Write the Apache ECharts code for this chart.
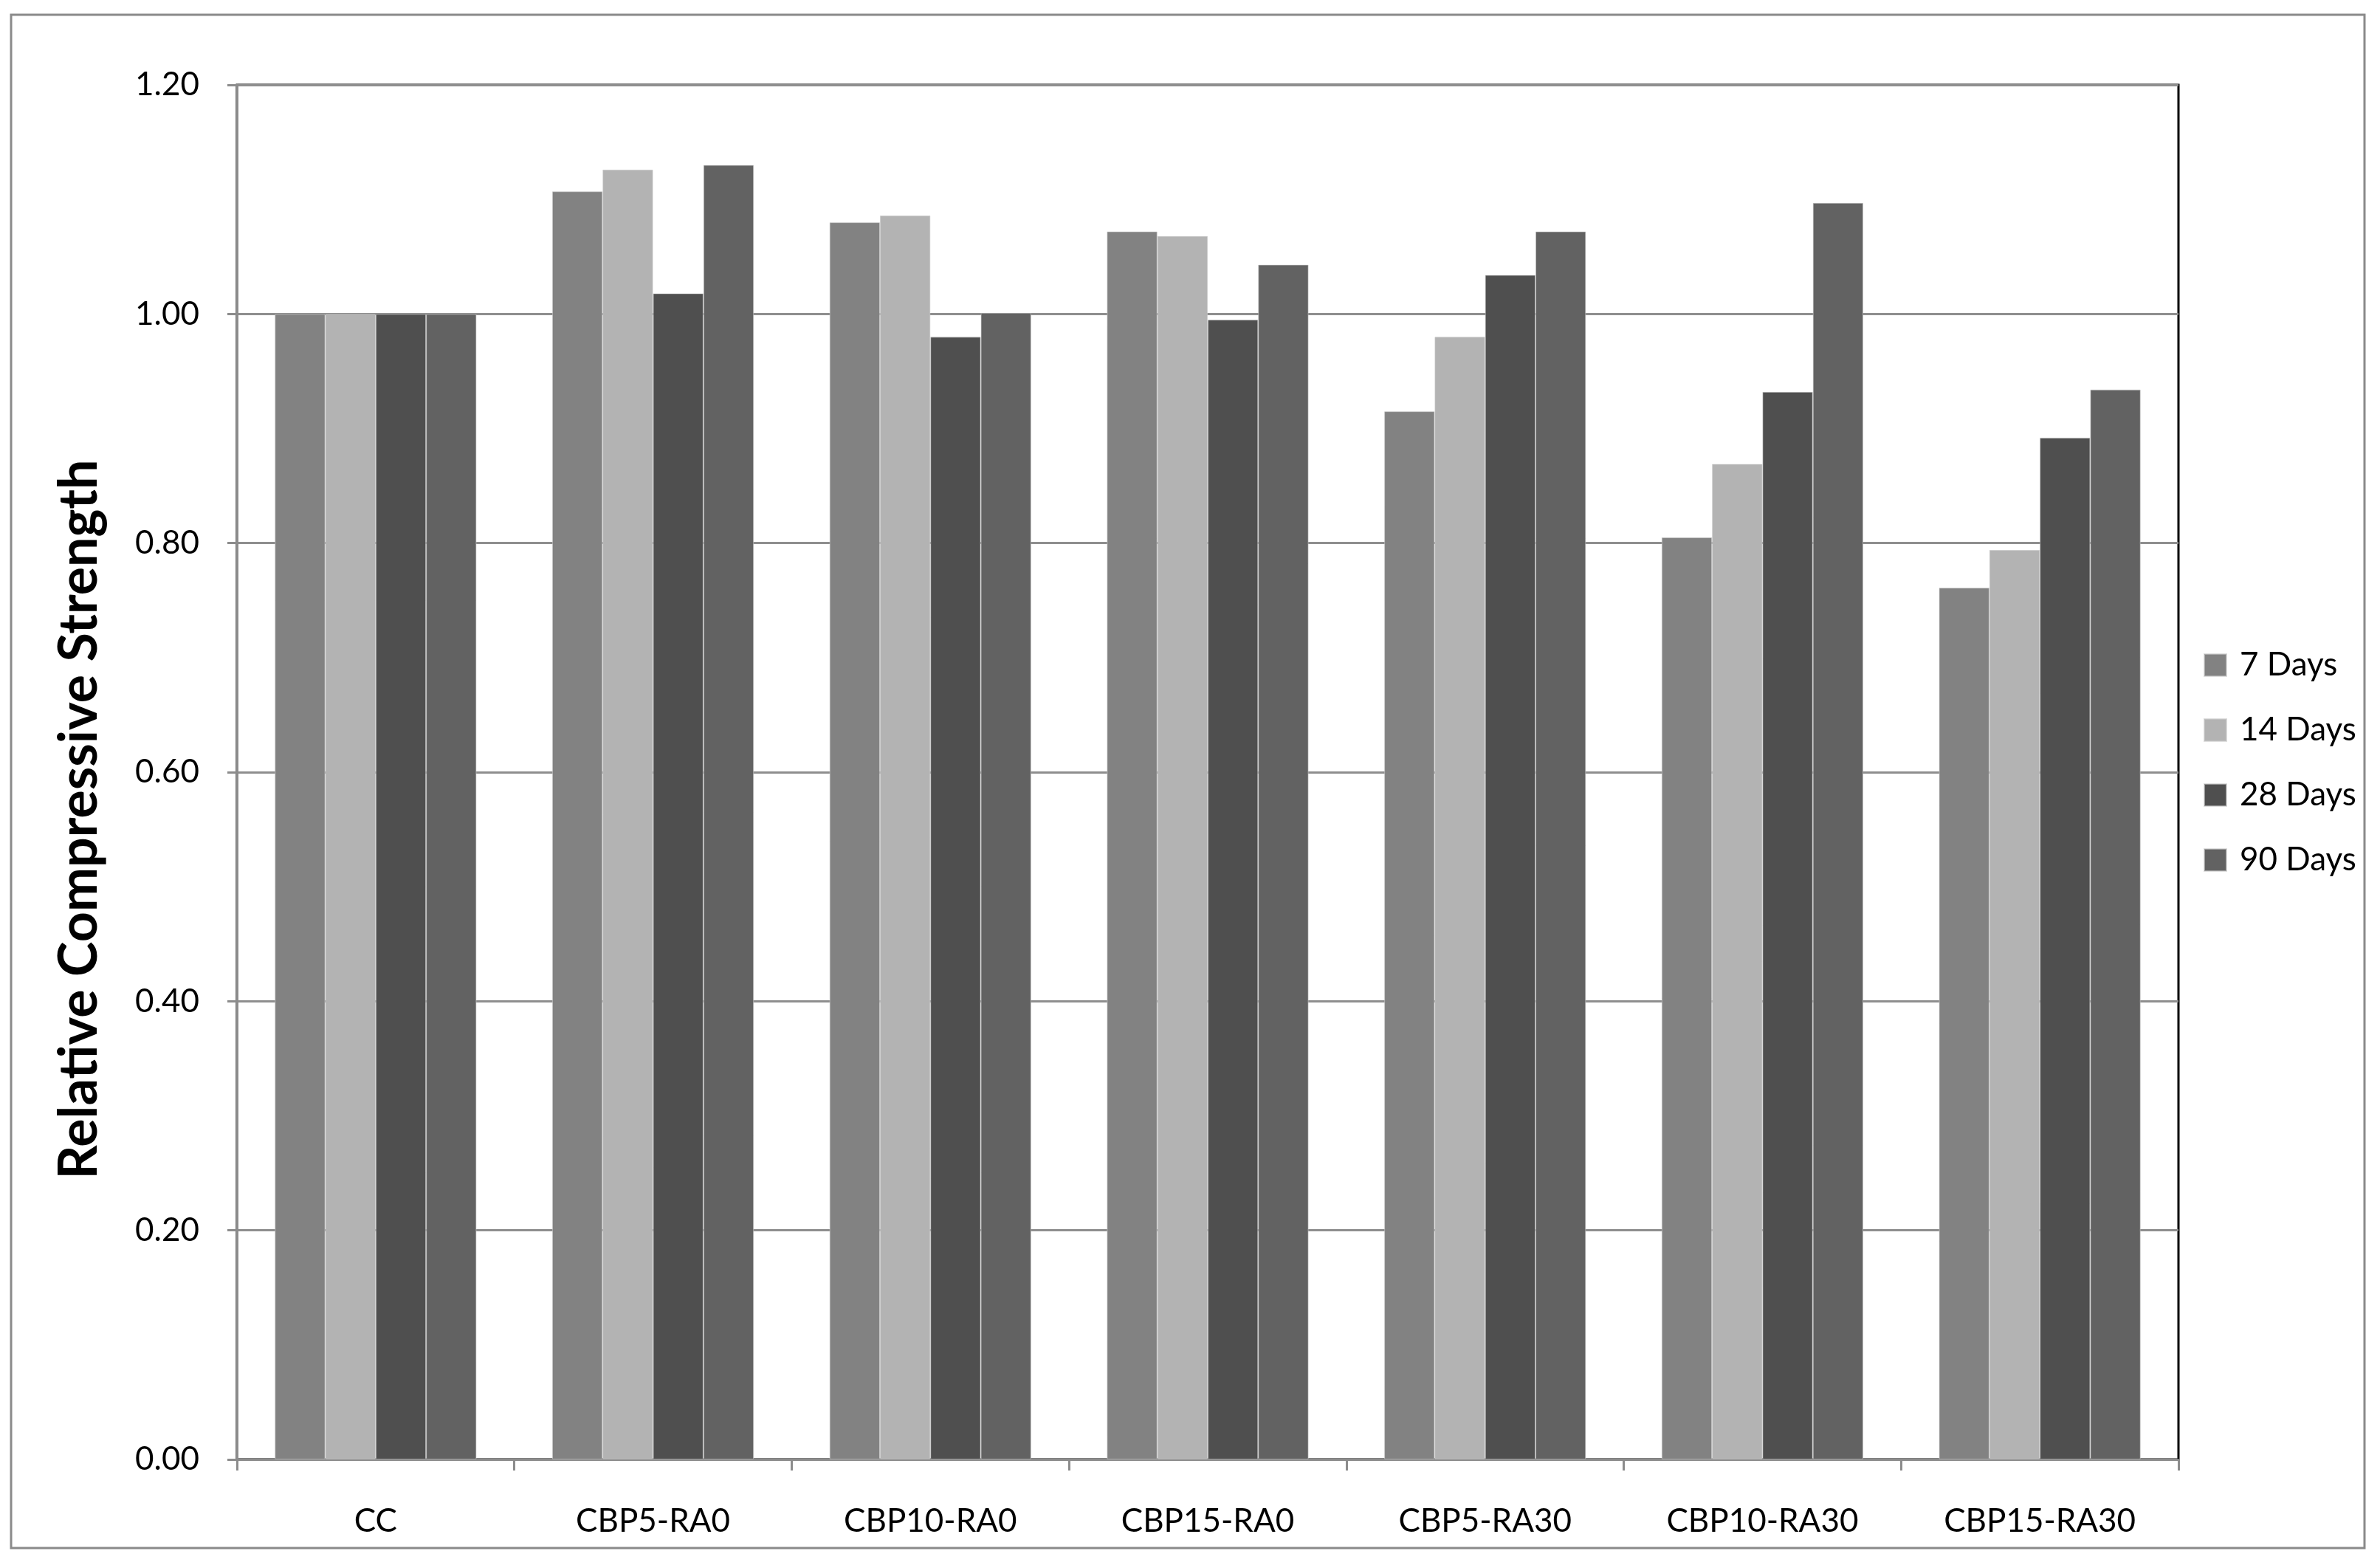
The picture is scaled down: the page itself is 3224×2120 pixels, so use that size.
<!DOCTYPE html>
<html>
<head>
<meta charset="utf-8">
<script src="https://cdn.jsdelivr.net/npm/echarts@6/dist/echarts.min.js"></script>
<style>
html,body{margin:0;padding:0;background:#fff;}
#chart{width:3224px;height:2120px;}
</style>
</head>
<body>
<div id="chart"></div>
<script>
const categories = ['CC','CBP5-RA0','CBP10-RA0','CBP15-RA0','CBP5-RA30','CBP10-RA30','CBP15-RA30'];
const seriesNames = ['7 Days','14 Days','28 Days','90 Days'];
const days7  = [1.00, 1.107, 1.080, 1.072, 0.915, 0.805, 0.761];
const days14 = [1.00, 1.126, 1.086, 1.068, 0.980, 0.869, 0.794];
const days28 = [1.00, 1.018, 0.980, 0.995, 1.034, 0.932, 0.892];
const days90 = [1.00, 1.130, 1.001, 1.043, 1.072, 1.097, 0.934];
const yTickLabels = ['0.00','0.20','0.40','0.60','0.80','1.00','1.20'];
const colors = ['#828282','#b3b3b3','#4f4f4f','#626262'];

const FAMILY = 'Lato';
const mctx = document.createElement('canvas').getContext('2d');
function fit(text, weight, target){
  mctx.font = weight + ' 100px ' + FAMILY;
  return 100 * target / mctx.measureText(text).width;
}
const labelSize = fit('CBP10-RA30','normal',260);
const tickSize = fit('1.20','normal',87);
const legendSize = fit('14 Days','normal',158);
const titleSize = fit('Relative Compressive Strength','bold',975);

const chart = echarts.init(document.getElementById('chart'));
const values = [days7, days14, days28, days90];
chart.setOption({
  backgroundColor:'#ffffff',
  animation:false,
  grid:{left:321, top:115, right:273, bottom:143, show:true, borderColor:'#000', borderWidth:3, backgroundColor:'transparent'},
  legend:{
    orient:'vertical', left:2980, top:871, itemWidth:30, itemHeight:30, itemGap:38,
    icon:'rect',
    data:seriesNames,
    textStyle:{fontFamily:FAMILY, fontSize:legendSize, color:'#000', lineHeight:50, padding:[0,0,0,13]}
  },
  xAxis:{
    type:'category', data:categories,
    axisLine:{lineStyle:{color:'#8c8c8c', width:3}},
    axisTick:{show:true, length:15, lineStyle:{color:'#8c8c8c', width:3}},
    axisLabel:{fontFamily:FAMILY, fontSize:labelSize, color:'#000', margin:62}
  },
  yAxis:{
    type:'value', min:0, max:1.2, interval:0.2,
    axisLine:{show:true, lineStyle:{color:'#8c8c8c', width:3}},
    axisTick:{show:true, length:13, lineStyle:{color:'#8c8c8c', width:3}},
    splitLine:{show:true, lineStyle:{color:'#8e8e8e', width:3}},
    axisLabel:{fontFamily:FAMILY, fontSize:tickSize, color:'#000', margin:51,
      formatter:function(v){ return yTickLabels[Math.round(v/0.2)]; }}
  },
  series: seriesNames.map((n,i)=>({
    name:n, type:'bar', data:values[i], barGap:'0%', barCategoryGap:'27.3%',
    itemStyle:{color:colors[i], borderColor:'rgba(200,200,200,0.6)', borderWidth:1}
  })),
  graphic:[
    {type:'rect', shape:{x:15, y:20, width:3188, height:2077}, style:{fill:'none', stroke:'#8a8a8a', lineWidth:3}, z:-1},
    {type:'text', x:108, y:1110, rotation:Math.PI/2,
     style:{text:'Relative Compressive Strength', fontFamily:FAMILY, fontWeight:'bold', fontSize:titleSize, fill:'#000', align:'center', verticalAlign:'middle'}}
  ]
});
</script>
</body>
</html>
